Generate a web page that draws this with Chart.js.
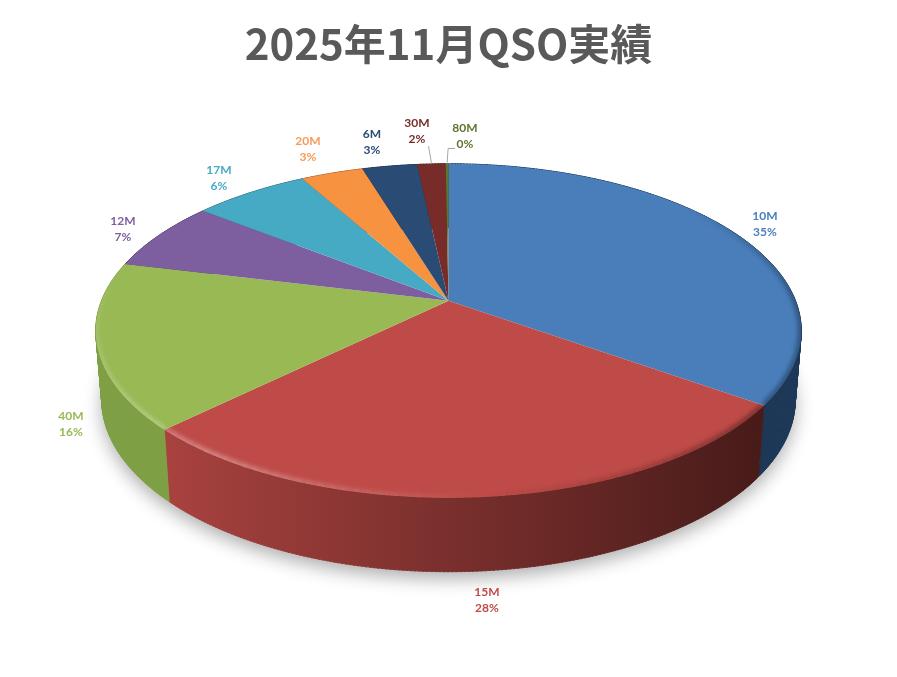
<!DOCTYPE html>
<html>
<head>
<meta charset="utf-8">
<title>2025年11月QSO実績</title>
<script src="https://cdn.jsdelivr.net/npm/chart.js@4"></script>
<style>
  html, body { margin: 0; padding: 0; background: #fff; }
  #pie-canvas { display: block; }
</style>
</head>
<body>
<canvas id="pie-canvas" width="897" height="677"></canvas>
<script>
var chartTitle = "2025年11月QSO実績";
var bands = ["10M", "15M", "40M", "12M", "17M", "20M", "6M", "30M", "80M"];
var shares = [34.85, 27.85, 16.1, 6.8, 6.3, 3.4, 3.0, 1.55, 0.15];
var sliceColors = ["#4a7ebb", "#be4b48", "#98b954", "#7d5fa0", "#46aac4", "#f69240", "#2a4b74", "#772c2a", "#5f7530"];
var labelColors = ["#4a7ebb", "#be4b48", "#98b954", "#7d5fa0", "#46aac4", "#f79b55", "#2a4b74", "#772c2a", "#5f7530"];
var wallColors = [
  ["#1d3757", "#1d3757"],
  ["#a8423f", "#471b19"],
  ["#7f9f45", "#88aa4c"],
  ["#4f3a66", "#4f3a66"],
  ["#2d6b7c", "#2d6b7c"],
  ["#9c5a26", "#9c5a26"],
  ["#1b3049", "#1b3049"],
  ["#4a1b1a", "#4a1b1a"],
  ["#3b491e", "#3b491e"]
];

// where excel left each label (center of the two text lines)
var labelSpots = [[765, 224], [487, 600], [71, 424], [123, 229], [219, 178], [308, 149], [372, 142], [417, 131], [465, 136]];

// perspective of the tilted disc
var tilt = 0.18, scaleX = 347, scaleY = 161.6;
// bottom rim compared with top rim
var bottomX = 0.983, bottomY = 1.03, bottomDrop = 68;

function project(arc, angle) {
  var c = Math.cos(angle), s = Math.sin(angle);
  var w = 1 - tilt * s;
  return { x: arc.x + scaleX * c / w, y: arc.y + scaleY * s / w };
}

function projectBottom(arc, angle) {
  var p = project(arc, angle);
  return { x: arc.x + (p.x - arc.x) * bottomX, y: arc.y + bottomDrop + (p.y - arc.y) * bottomY };
}

function traceRim(ctx, arc, from, to, fn, move) {
  var steps = Math.max(2, Math.ceil(Math.abs(to - from) / 0.01));
  for (var i = 0; i <= steps; i++) {
    var p = fn(arc, from + (to - from) * i / steps);
    if (i === 0 && move) ctx.moveTo(p.x, p.y);
    else ctx.lineTo(p.x, p.y);
  }
}

// wall as small quads, the outline of two crossing rims would lose the side slivers
function fillWall(ctx, arc) {
  var step = 0.01;
  ctx.lineWidth = 0.8; // closes the hairline seams between quads
  for (var a = arc.startAngle; a < arc.endAngle; a += step) {
    var b = Math.min(a + step * 1.5, arc.endAngle);
    var p1 = project(arc, a), p2 = project(arc, b);
    var q1 = projectBottom(arc, a), q2 = projectBottom(arc, b);
    ctx.beginPath();
    ctx.moveTo(p1.x, p1.y);
    ctx.lineTo(p2.x, p2.y);
    ctx.lineTo(q2.x, q2.y);
    ctx.lineTo(q1.x, q1.y);
    ctx.closePath();
    ctx.fill();
    ctx.stroke();
  }
}

var pie3d = {
  id: "pie3d",
  beforeDatasetDraw: function() {
    return false; // drawn below instead
  },
  afterDatasetsDraw: function(chart) {
    var ctx = chart.ctx;
    var arcs = chart.getDatasetMeta(0).data;
    var first = arcs[0];
    var i, arc;

    // soft shadow on the page
    ctx.save();
    ctx.shadowColor = "rgba(0,0,0,0.32)";
    ctx.shadowBlur = 18;
    ctx.shadowOffsetX = 0;
    ctx.shadowOffsetY = 7;
    ctx.fillStyle = "#fff";
    ctx.beginPath();
    traceRim(ctx, first, 0, Math.PI * 2, projectBottom, true);
    ctx.closePath();
    ctx.fill();
    ctx.restore();

    // walls
    for (i = 0; i < arcs.length; i++) {
      arc = arcs[i];
      var g = ctx.createLinearGradient(166, 0, 763, 0);
      g.addColorStop(0, wallColors[i][0]);
      g.addColorStop(1, wallColors[i][1]);
      ctx.fillStyle = g;
      ctx.strokeStyle = g;
      fillWall(ctx, arc);
    }

    // top faces with the bevel along the rim
    for (i = 0; i < arcs.length; i++) {
      arc = arcs[i];
      ctx.save();
      ctx.fillStyle = arc.options.backgroundColor;
      ctx.beginPath();
      ctx.moveTo(arc.x, arc.y);
      traceRim(ctx, arc, arc.startAngle, arc.endAngle, project, false);
      ctx.closePath();
      ctx.fill();
      ctx.clip();
      drawBevel(ctx, arc);
      ctx.restore();
    }

    drawLabels(ctx, arcs);
  }
};

function drawBevel(ctx, arc) {
  var step = 0.03;
  ctx.lineCap = "butt";
  ctx.filter = "blur(2px)";
  for (var a = arc.startAngle; a < arc.endAngle; a += step) {
    var b = Math.min(a + step + 0.004, arc.endAngle);
    var mid = (a + b) / 2;
    var deg = ((mid * 180 / Math.PI) % 360 + 360) % 360;
    var color = null;
    if (deg > 320 || deg < 85) {
      // right side goes dark into the wall
      var dark = deg > 320 ? (deg - 320) / 40 * 0.3 : 0.3;
      if (deg >= 40 && deg < 85) dark = (85 - deg) / 45 * 0.3;
      color = "rgba(0,0,0," + dark.toFixed(3) + ")";
    } else if (deg >= 85 && deg < 195) {
      // front left catches the light
      var light = deg < 125 ? (deg - 85) / 40 * 0.3 : 0.3 * (195 - deg) / 70;
      color = "rgba(255,255,255," + light.toFixed(3) + ")";
    }
    if (!color) continue;
    ctx.strokeStyle = color;
    ctx.lineWidth = 7;
    ctx.beginPath();
    traceRim(ctx, arc, a, b, project, true);
    ctx.stroke();
  }
  ctx.filter = "none";
}

function drawLabels(ctx, arcs) {
  var total = shares.reduce(function(s, v) { return s + v; }, 0);
  ctx.save();
  ctx.font = "bold 12px Lato, sans-serif";
  ctx.textAlign = "center";
  ctx.textBaseline = "middle";
  for (var i = 0; i < bands.length; i++) {
    var spot = labelSpots[i];
    ctx.fillStyle = labelColors[i];
    ctx.fillText(bands[i], spot[0], spot[1] - 8);
    ctx.fillText(Math.round(shares[i] / total * 100) + "%", spot[0], spot[1] + 8);
  }
  // leader lines for the two thin slices
  ctx.strokeStyle = "#a6a6a6";
  ctx.lineWidth = 1;
  var p30 = project(arcs[7], (arcs[7].startAngle + arcs[7].endAngle) / 2);
  ctx.beginPath();
  ctx.moveTo(428.5, 146);
  ctx.lineTo(p30.x, p30.y - 1);
  ctx.stroke();
  var p80 = project(arcs[8], (arcs[8].startAngle + arcs[8].endAngle) / 2);
  ctx.beginPath();
  ctx.moveTo(p80.x, p80.y - 1);
  ctx.lineTo(p80.x + 1, 148.5);
  ctx.lineTo(455, 148.5);
  ctx.stroke();
  ctx.restore();
}

var ctx = document.getElementById("pie-canvas").getContext("2d");
var chart = new Chart(ctx, {
  type: "pie",
  data: {
    labels: bands,
    datasets: [{ data: shares, backgroundColor: sliceColors, borderWidth: 0 }]
  },
  options: {
    responsive: false,
    animation: false,
    layout: { padding: { bottom: 164 } },
    plugins: {
      legend: { display: false },
      tooltip: { enabled: false },
      title: {
        display: true,
        text: chartTitle,
        color: "#595959",
        font: { family: "'Noto Sans CJK JP'", size: 42, weight: "bold" },
        padding: { top: 19, bottom: 19 }
      }
    }
  },
  plugins: [pie3d]
});
</script>
</body>
</html>
